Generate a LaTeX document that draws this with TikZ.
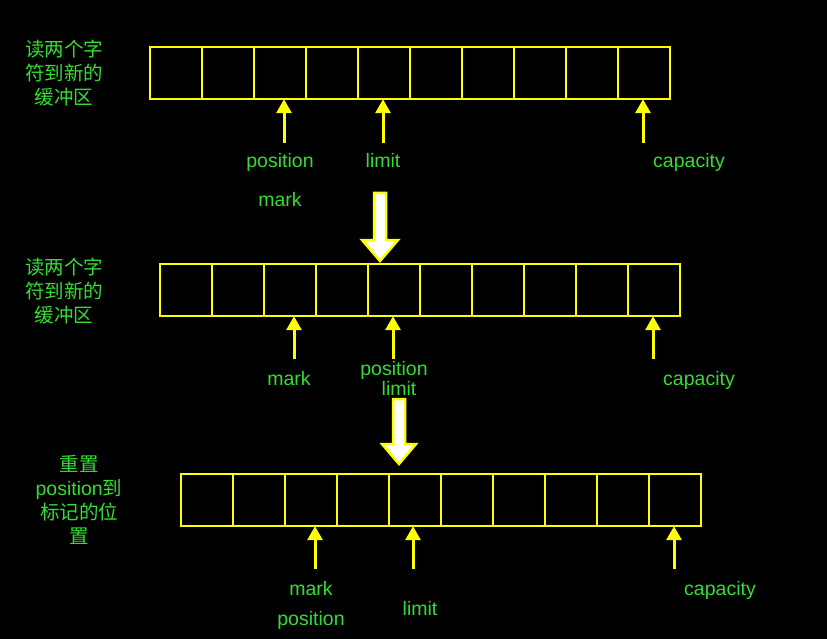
\documentclass[tikz,border=0pt]{standalone}
\usepackage{fontspec}
\usetikzlibrary{arrows.meta}
\setmainfont{Liberation Sans}
\newfontfamily\cjk{Noto Sans CJK SC}
\definecolor{txtgreen}{HTML}{33DD33}
\definecolor{yel}{HTML}{FFFF00}
\begin{document}
\begin{tikzpicture}[x=1pt,y=-1pt,
  cell/.style={draw=yel,line width=2.2pt,minimum width=52pt,minimum height=52pt,inner sep=0pt,anchor=north west},
  ptr/.style={draw=yel,line width=3pt,-{Triangle[length=14pt,width=15pt]},shorten >=-1pt},
  lbl/.style={text=txtgreen,font=\fontsize{19.5}{22}\selectfont,inner sep=0pt,anchor=base},
  side/.style={text=txtgreen,font=\fontsize{19.5}{24}\selectfont\cjk,align=center,inner sep=0pt},
  bigarrow/.style={draw=yel,fill=white,line width=2.5pt,line join=miter}]
\fill[black] (0,0) rectangle (827,639);
\useasboundingbox (0,0) rectangle (827,639);
% buffers
\foreach \i in {0,...,9} \node[cell] (a\i) at ({149+52*\i},46) {};
\foreach \i in {0,...,9} \node[cell] (b\i) at ({159+52*\i},263) {};
\foreach \i in {0,...,9} \node[cell] (c\i) at ({180+52*\i},473) {};
% side texts
\node[side] (t1) at (64,73) {读两个字\\符到新的\\缓冲区};
\node[side] (t2) at (64,291) {读两个字\\符到新的\\缓冲区};
\node[side] (t3) at (79,500) {重置\\{\fontspec{Liberation Sans}position}到\\标记的位\\置};
% row 1 pointers
\coordinate (p1) at (284,143);
\coordinate (l1) at (383,143);
\coordinate (k1) at (643,143);
\draw[ptr] (p1) -- (p1 |- a2.south);
\draw[ptr] (l1) -- (l1 |- a4.south);
\draw[ptr] (k1) -- (k1 |- a9.south);
\node[lbl] (pos1) at (280,168) {position};
\node[lbl] (lim1) at (383,168) {limit};
\node[lbl] (cap1) at (689,168) {capacity};
\node[lbl] (mk1) at (280,207) {mark};
% row 2 pointers
\coordinate (p2) at (294,359);
\coordinate (l2) at (393,359);
\coordinate (k2) at (653,359);
\draw[ptr] (p2) -- (p2 |- b2.south);
\draw[ptr] (l2) -- (l2 |- b4.south);
\draw[ptr] (k2) -- (k2 |- b9.south);
\node[lbl] (mk2) at (289,385) {mark};
\node[lbl] (pos2) at (394,375) {position};
\node[lbl] (lim2) at (399,395) {limit};
\node[lbl] (cap2) at (699,385) {capacity};
% row 3 pointers
\coordinate (p3) at (315,569);
\coordinate (l3) at (413,569);
\coordinate (k3) at (674,569);
\draw[ptr] (p3) -- (p3 |- c2.south);
\draw[ptr] (l3) -- (l3 |- c4.south);
\draw[ptr] (k3) -- (k3 |- c9.south);
\node[lbl] (mk3) at (311,595) {mark};
\node[lbl] (pos3) at (311,625) {position};
\node[lbl] (lim3) at (420,615) {limit};
\node[lbl] (cap3) at (720,595) {capacity};
% big arrows
\draw[bigarrow] (374,193) -- (386,193) -- (386,240) -- (398,240) -- (380,261) -- (362,240) -- (374,240) -- cycle;
\draw[bigarrow] (393,399) -- (405,399) -- (405,444) -- (416,444) -- (399,464) -- (382,444) -- (393,444) -- cycle;
\end{tikzpicture}
\end{document}
